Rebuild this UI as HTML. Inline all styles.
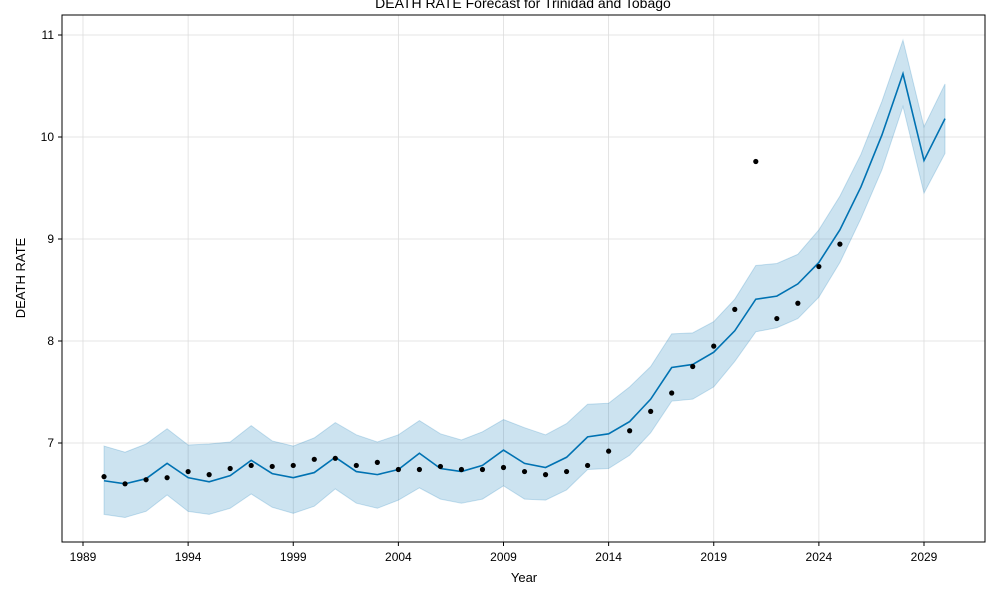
<!DOCTYPE html>
<html><head><meta charset="utf-8"><style>
body{margin:0;background:#fff;}
svg text{font-family:"Liberation Sans",sans-serif;}
</style></head><body>
<svg id="chart" width="1000" height="600" xmlns="http://www.w3.org/2000/svg">
<text x="523" y="8" font-size="14" text-anchor="middle">DEATH RATE Forecast for Trinidad and Tobago</text>
<g id="grid"></g>
<g id="band"></g>
<g id="line"></g>
<g id="dots"></g>
<rect x="62" y="15" width="923" height="527" fill="none" stroke="#000" stroke-width="1"/>
<g id="axes"></g>
<text x="524" y="582" font-size="13" text-anchor="middle">Year</text>
<text x="25" y="278" font-size="13" text-anchor="middle" transform="rotate(-90 25 278)">DEATH RATE</text>
</svg>
<script>
const fcYears=[1990,1991,1992,1993,1994,1995,1996,1997,1998,1999,2000,2001,2002,2003,2004,2005,2006,2007,2008,2009,2010,2011,2012,2013,2014,2015,2016,2017,2018,2019,2020,2021,2022,2023,2024,2025,2026,2027,2028,2029,2030];
const yhat=[6.63,6.60,6.65,6.80,6.66,6.62,6.68,6.83,6.70,6.66,6.71,6.86,6.72,6.69,6.74,6.90,6.75,6.72,6.78,6.93,6.80,6.76,6.86,7.06,7.09,7.21,7.43,7.74,7.77,7.89,8.10,8.41,8.44,8.56,8.77,9.09,9.51,10.02,10.62,9.77,10.18];
const upper=[6.97,6.91,6.99,7.14,6.98,6.99,7.01,7.17,7.02,6.97,7.05,7.20,7.08,7.01,7.08,7.22,7.09,7.03,7.11,7.23,7.15,7.08,7.19,7.38,7.39,7.55,7.75,8.07,8.08,8.19,8.41,8.74,8.76,8.85,9.09,9.42,9.83,10.35,10.95,10.10,10.52];
const lower=[6.30,6.27,6.33,6.49,6.33,6.30,6.36,6.50,6.37,6.31,6.38,6.55,6.41,6.36,6.44,6.56,6.45,6.41,6.45,6.58,6.45,6.44,6.54,6.74,6.75,6.88,7.10,7.41,7.43,7.55,7.80,8.09,8.13,8.22,8.43,8.77,9.20,9.68,10.30,9.45,9.84];
const obsYears=[1990,1991,1992,1993,1994,1995,1996,1997,1998,1999,2000,2001,2002,2003,2004,2005,2006,2007,2008,2009,2010,2011,2012,2013,2014,2015,2016,2017,2018,2019,2020,2021,2022,2023,2024,2025];
const obs=[6.67,6.60,6.64,6.66,6.72,6.69,6.75,6.78,6.77,6.78,6.84,6.85,6.78,6.81,6.74,6.74,6.77,6.74,6.74,6.76,6.72,6.69,6.72,6.78,6.92,7.12,7.31,7.49,7.75,7.95,8.31,9.76,8.22,8.37,8.73,8.95];
const xTicks=[1989,1994,1999,2004,2009,2014,2019,2024,2029];
const yTicks=[7,8,9,10,11];
const NS='http://www.w3.org/2000/svg';
function xs(v){return 83+(v-1989)*(841/40);}
function ys(v){return 443-(v-7)*102;}
function mk(tag,attrs,parent){const e=document.createElementNS(NS,tag);for(const k in attrs)e.setAttribute(k,attrs[k]);document.getElementById(parent).appendChild(e);return e;}
xTicks.forEach(t=>{
 const g=mk('line',{x1:xs(t),x2:xs(t),y1:15,y2:542,stroke:'#ddd','stroke-width':0.8},'grid');
 
 
 const tk=mk('line',{x1:xs(t),x2:xs(t),y1:542,y2:546,stroke:'#000'},'axes');
 
 
 const tx=mk('text',{x:xs(t),y:561,'font-size':12,'text-anchor':'middle'},'axes');
 tx.textContent=t;
 
 
});
yTicks.forEach(t=>{
 const g=mk('line',{x1:62,x2:985,y1:ys(t),y2:ys(t),stroke:'#ddd','stroke-width':0.8},'grid');
 
 
 const tk=mk('line',{x1:58,x2:62,y1:ys(t),y2:ys(t),stroke:'#000'},'axes');
 
 
 const tx=mk('text',{x:54,y:ys(t)+4,'font-size':12,'text-anchor':'end'},'axes');
 tx.textContent=t;
 
 
});
let d='M'+fcYears.map((y,i)=>xs(y)+','+ys(upper[i])).join('L');
for(let i=fcYears.length-1;i>=0;i--)d+='L'+xs(fcYears[i])+','+ys(lower[i]);
const band=mk('path',{d:d+'Z',fill:'#0072B2','fill-opacity':0.2,stroke:'#0072B2','stroke-opacity':0.2},'band');


const ln=mk('polyline',{points:fcYears.map((y,i)=>xs(y)+','+ys(yhat[i])).join(' '),fill:'none',stroke:'#0072B2','stroke-width':1.6},'line');


obsYears.forEach((y,i)=>{
 const c=mk('circle',{cx:xs(y),cy:ys(obs[i]),r:2.6,fill:'#000'},'dots');
 
 
});
</script>
</body></html>
